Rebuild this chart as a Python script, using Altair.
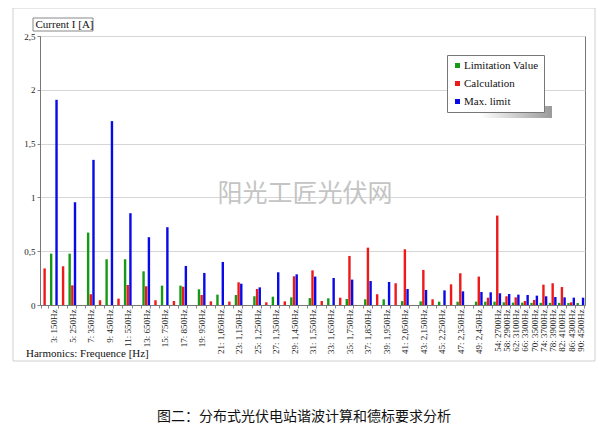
import json
import altair as alt
import pandas as pd

# ---------------- data ----------------
harmonics = list(range(2, 51)) + [54, 58, 62, 66, 70, 74, 78, 82, 86, 90]

tick_labels = [
    "", "3: 150Hz", "", "5: 250Hz", "", "7: 350Hz", "", "9: 450Hz", "", "11: 550Hz",
    "", "13: 650Hz", "", "15: 750Hz", "", "17: 850Hz", "", "19: 950Hz", "", "21: 1,050Hz",
    "", "23: 1,150Hz", "", "25: 1,250Hz", "", "27: 1,350Hz", "", "29: 1,450Hz", "", "31: 1,550Hz",
    "", "33: 1,650Hz", "", "35: 1,750Hz", "", "37: 1,850Hz", "", "39: 1,950Hz", "", "41: 2,050Hz",
    "", "43: 2,150Hz", "", "45: 2,250Hz", "", "47: 2,350Hz", "", "49: 2,450Hz", "",
    "54: 2700Hz", "58: 2900Hz", "62: 3100Hz", "66: 3300Hz", "70: 3500Hz",
    "74: 3700Hz", "78: 3900Hz", "82: 4100Hz", "86: 4300Hz", "90: 4500Hz",
]

N = None
# harmonic orders 2..50, then 54..90 step 4
limitation_value = [
    N, 0.477, N, 0.477, N, 0.673, N, 0.425, N, 0.425,      # 2-11
    N, 0.313, N, 0.18, N, 0.18, N, 0.146, N, 0.096,        # 12-21
    N, 0.093, N, 0.081, N, 0.077, N, 0.071, N, 0.064,      # 22-31
    N, 0.062, N, 0.056, N, 0.053, N, 0.053, N, 0.036,      # 32-41
    N, 0.034, N, 0.031, N, 0.031, N, 0.031, 0.031,         # 42-50
    0.031, 0.025, 0.022, 0.022, 0.02, 0.02, 0.02, 0.02, 0.018, 0.018,  # 54-90
]
calculation = [
    0.34, N, 0.36, 0.183, N, 0.10, 0.044, N, 0.059, 0.186,     # 2-11
    N, 0.174, 0.044, N, 0.037, 0.17, N, 0.093, 0.034, N,       # 12-21
    0.032, 0.211, N, 0.149, 0.025, N, 0.034, 0.267, N, 0.322,  # 22-31
    0.037, N, 0.068, 0.456, N, 0.533, 0.10, N, 0.202, 0.518,   # 32-41
    N, 0.326, 0.053, N, 0.192, 0.295, N, 0.264, 0.068,         # 42-50
    0.831, 0.081, 0.071, 0.037, 0.047, 0.189, 0.202, 0.167, 0.025, N,  # 54-90
]
max_limit = [
    N, 1.907, N, 0.955, N, 1.349, N, 1.709, N, 0.853,      # 2-11
    N, 0.63, N, 0.723, N, 0.363, N, 0.298, N, 0.40,        # 12-21
    N, 0.198, N, 0.164, N, 0.304, N, 0.285, N, 0.264,      # 22-31
    N, 0.251, N, 0.236, N, 0.223, N, 0.214, N, 0.149,      # 32-41
    N, 0.14, N, 0.136, N, 0.127, N, 0.121, 0.118,          # 42-50
    0.109, 0.102, 0.096, 0.093, 0.087, 0.081, 0.074, 0.071, 0.068, 0.068,  # 54-90
]

series_names = ["Limitation Value", "Calculation", "Max. limit"]
series_colors = ["#149a14", "#ee1a1a", "#0a0ae8"]
y_ticks = [0, 0.5, 1, 1.5, 2, 2.5]

y_title = "Current I [A]"
x_title = "Harmonics: Frequence [Hz]"
watermark = "阳光工匠光伏网"
caption = "图二：分布式光伏电站谐波计算和德标要求分析"

rows = []
for name, vals in zip(series_names, [limitation_value, calculation, max_limit]):
    for h, v in zip(harmonics, vals):
        if v is not None:
            rows.append({"h": h, "series": name, "value": v})
df = pd.DataFrame(rows)

SERIF = "Liberation Serif"
label_expr = f"{json.dumps(tick_labels)}[indexof({json.dumps(harmonics)}, datum.value)]"

bars = alt.Chart(df).mark_bar().encode(
    x=alt.X(
        "h:O",
        sort=harmonics,
        scale=alt.Scale(domain=harmonics, paddingInner=0.16, paddingOuter=0.08),
        axis=alt.Axis(
            title=None,
            labelExpr=label_expr,
            labelAngle=270,
            labelOverlap=False,
            labelFont=SERIF,
            labelFontSize=9,
            labelColor="#222",
            labelPadding=1,
            tickSize=3,
            tickBand="extent",
            tickColor="#888",
            domainColor="#777",
            grid=False,
        ),
    ),
    xOffset=alt.XOffset(
        "series:N",
        sort=series_names,
        scale=alt.Scale(domain=series_names, paddingInner=0.1, paddingOuter=0),
    ),
    y=alt.Y(
        "value:Q",
        scale=alt.Scale(domain=[0, 2.5], nice=False),
        axis=alt.Axis(
            title=None,
            values=y_ticks,
            labelExpr="replace(toString(datum.value), '.', ',')",
            labelFont=SERIF,
            labelFontSize=9,
            labelColor="#222",
            tickSize=3,
            tickColor="#888",
            domainColor="#777",
            gridColor="#d6d6d6",
            labelPadding=2,
        ),
    ),
    color=alt.Color(
        "series:N",
        scale=alt.Scale(domain=series_names, range=series_colors),
        legend=alt.Legend(
            title=None,
            orient="none",
            legendX=407,
            legendY=19,
            fillColor="white",
            strokeColor="#777",
            padding=5,
            symbolOffset=0,
            rowPadding=6,
            symbolType="square",
            symbolSize=25,
            symbolStrokeWidth=0,
            labelOffset=1,
            labelFont=SERIF,
            labelFontSize=11,
            labelColor="#111",
        ),
    ),
)

one = pd.DataFrame({"k": [0]})

outer_box = alt.Chart(one).mark_rect(fillOpacity=0, stroke="#cfcfcf", strokeWidth=1).encode(
    x=alt.value(-27), x2=alt.value(555), y=alt.value(-28), y2=alt.value(325)
)

shadow = alt.Chart(one).mark_rect(
    fill=alt.Gradient(
        gradient="linear",
        stops=[alt.GradientStop(color="#ffffff", offset=0), alt.GradientStop(color="#9a9a9a", offset=1)],
        x1=0, x2=1, y1=0, y2=0,
    )
).encode(x=alt.value(440), x2=alt.value(512), y=alt.value(70), y2=alt.value(82))

title_box = alt.Chart(one).mark_rect(fill="white", stroke="#888", strokeWidth=1).encode(
    x=alt.value(-7), x2=alt.value(53), y=alt.value(-18), y2=alt.value(-5)
)
title_text = alt.Chart(pd.DataFrame({"t": [y_title]})).mark_text(
    align="left", baseline="middle", font=SERIF, fontSize=11, color="#111"
).encode(x=alt.value(-4.5), y=alt.value(-11.3), text="t:N")

x_title_text = alt.Chart(pd.DataFrame({"t": [x_title]})).mark_text(
    align="left", baseline="middle", font=SERIF, fontSize=11, color="#111"
).encode(x=alt.value(-14), y=alt.value(318), text="t:N")

watermark_text = alt.Chart(pd.DataFrame({"t": [watermark]})).mark_text(
    align="center", baseline="middle", font="Noto Sans CJK SC", fontSize=25, color="#c4c4c4"
).encode(x=alt.value(265), y=alt.value(158), text="t:N")

caption_text = alt.Chart(pd.DataFrame({"t": [caption]})).mark_text(
    align="center", baseline="middle", font="Noto Sans CJK SC", fontSize=14, color="#111"
).encode(x=alt.value(264), y=alt.value(381), text="t:N")

chart = alt.layer(
    outer_box, shadow, bars, watermark_text, title_box, title_text, x_title_text, caption_text
).properties(
    width=545,
    height=269,
    padding={"left": 32, "top": 28, "right": 14, "bottom": 119},
    autosize=alt.AutoSizeParams(type="none"),
    background="white",
).configure_view(stroke="#777", strokeWidth=1)

chart.save("out.html", embed_options={"renderer": "svg", "actions": False})
